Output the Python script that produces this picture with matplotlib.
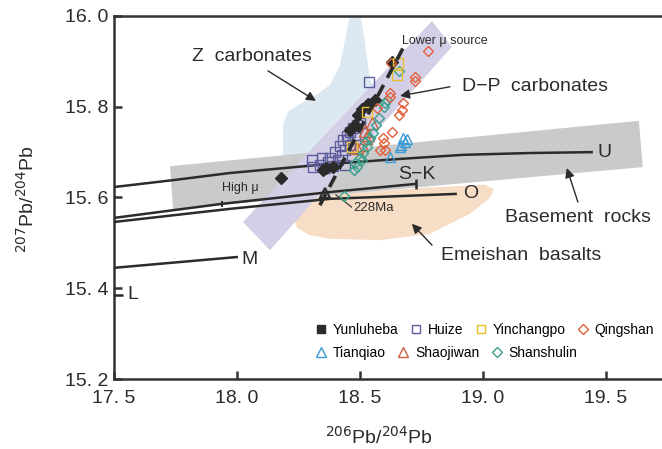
import matplotlib
matplotlib.use('Agg')
import matplotlib.pyplot as plt
from matplotlib.lines import Line2D
from matplotlib.patches import Polygon

plt.rcParams['font.family'] = ['Liberation Sans', 'DejaVu Sans']

INK = '#2b2b2b'

# --- sample data (206Pb/204Pb, 207Pb/204Pb) ---
yunluheba_x = [18.179, 18.630, 18.561, 18.533, 18.508, 18.492, 18.362, 18.390, 18.350, 18.480, 18.459]
yunluheba_y = [15.643, 15.899, 15.815, 15.806, 15.795, 15.782, 15.665, 15.667, 15.661, 15.760, 15.749]

huize_x = [18.537, 18.305, 18.346, 18.309, 18.358, 18.390, 18.439, 18.378, 18.398, 18.419, 18.431, 18.447,
           18.459, 18.472, 18.488, 18.500, 18.439, 18.459, 18.411, 18.427, 18.480, 18.451, 18.467, 18.337, 18.370]
huize_y = [15.855, 15.683, 15.687, 15.667, 15.665, 15.669, 15.672, 15.687, 15.700, 15.713, 15.727, 15.736,
           15.744, 15.753, 15.760, 15.764, 15.705, 15.716, 15.683, 15.694, 15.738, 15.727, 15.709, 15.672, 15.678]

yinchangpo_x = [18.654, 18.650, 18.528, 18.467]
yinchangpo_y = [15.896, 15.870, 15.788, 15.711]

qingshan_x = [18.776, 18.626, 18.724, 18.724, 18.622, 18.675, 18.671, 18.659, 18.569, 18.593, 18.598, 18.581,
              18.602, 18.630, 18.622]
qingshan_y = [15.923, 15.896, 15.866, 15.857, 15.830, 15.808, 15.793, 15.782, 15.797, 15.731, 15.720, 15.705,
              15.705, 15.744, 15.821]

tianqiao_x = [18.675, 18.691, 18.683, 18.663, 18.667, 18.622]
tianqiao_y = [15.731, 15.729, 15.722, 15.711, 15.716, 15.689]

shaojiwan_x = [18.549, 18.533, 18.524, 18.508, 18.488, 18.520]
shaojiwan_y = [15.764, 15.738, 15.731, 15.716, 15.709, 15.747]

shanshulin_x = [18.659, 18.610, 18.602, 18.598, 18.577, 18.553, 18.541, 18.528, 18.512, 18.500, 18.480, 18.476,
                18.488, 18.508, 18.435, 18.565, 18.520]
shanshulin_y = [15.879, 15.815, 15.808, 15.799, 15.775, 15.742, 15.731, 15.711, 15.698, 15.687, 15.676, 15.661,
                15.667, 15.683, 15.603, 15.760, 15.722]

# --- reference fields ---
dp_band_x = [18.024, 18.793, 18.874, 18.134]
dp_band_y = [15.546, 15.989, 15.932, 15.484]
basement_x = [17.728, 19.634, 19.650, 17.740]
basement_y = [15.669, 15.769, 15.667, 15.574]
z_carb_x = [18.187, 18.187, 18.207, 18.256, 18.317, 18.378, 18.419, 18.443, 18.463, 18.500, 18.516, 18.528,
            18.541, 18.602, 18.541, 18.256]
z_carb_y = [15.694, 15.760, 15.789, 15.806, 15.824, 15.848, 15.892, 15.958, 16.010, 16.010, 15.958, 15.910,
            15.859, 15.793, 15.683, 15.672]
emeishan_x = [18.256, 18.228, 18.244, 18.297, 18.378, 18.581, 18.785, 18.947, 19.028, 19.045, 19.008, 18.744, 18.378]
emeishan_y = [15.594, 15.561, 15.533, 15.517, 15.509, 15.506, 15.520, 15.564, 15.599, 15.619, 15.628, 15.621, 15.606]

# --- growth curves ---
u_x = [17.5, 17.736, 17.972, 18.378, 18.663, 18.919, 19.191, 19.447]
u_y = [15.623, 15.638, 15.654, 15.674, 15.685, 15.694, 15.698, 15.700]
sk_x = [17.5, 17.939, 18.378, 18.728]
sk_y = [15.555, 15.586, 15.612, 15.630]
o_x = [17.5, 17.972, 18.378, 18.894]
o_y = [15.546, 15.575, 15.597, 15.608]
m_x = [17.5, 18.004]
m_y = [15.445, 15.469]
l_x = [17.5, 17.537]
l_y = [15.385, 15.385]
trend_x = [18.337, 18.675]
trend_y = [15.583, 15.929]
age_228_x, age_228_y = 18.358, 15.610
high_mu_x, high_mu_y = 17.939, 15.586

x_ticks = [17.5, 18.0, 18.5, 19.0, 19.5]
x_labels = ['17. 5', '18. 0', '18. 5', '19. 0', '19. 5']
y_ticks = [15.2, 15.4, 15.6, 15.8, 16.0]
y_labels = ['15. 2', '15. 4', '15. 6', '15. 8', '16. 0']

fig = plt.figure(figsize=(6.62, 4.49), dpi=100)
ax = fig.add_axes([0.1722, 0.1559, 0.8278, 0.8085])
ax.set_xlim(17.5, 19.728)
ax.set_ylim(15.2, 16.0)

ax.add_patch(Polygon(list(zip(emeishan_x, emeishan_y)), closed=True, fc='#f7dcc6', ec='none', zorder=1))
ax.add_patch(Polygon(list(zip(z_carb_x, z_carb_y)), closed=True, fc='#dce9f3', ec='none', zorder=1))
ax.add_patch(Polygon(list(zip(basement_x, basement_y)), closed=True, fc='#c9cacb', ec='none', zorder=2))
ax.add_patch(Polygon(list(zip(dp_band_x, dp_band_y)), closed=True, fc='#d4cfe6', ec='none', zorder=3))

line_kw = dict(color=INK, lw=1.8, solid_capstyle='butt', zorder=4)
ax.plot(u_x, u_y, **line_kw)
ax.plot(sk_x, sk_y, **line_kw)
ax.plot(o_x, o_y, **line_kw)
ax.plot(m_x, m_y, **line_kw)
ax.plot(l_x, l_y, **line_kw)
ax.plot([sk_x[-1]], [sk_y[-1]], marker='|', ms=7, mew=1.8, color=INK, zorder=4)
ax.plot([high_mu_x], [high_mu_y], marker='|', ms=5, mew=1.5, color=INK, zorder=4)
ax.plot([age_228_x], [age_228_y], marker='^', ms=7, mfc='none', mec=INK, mew=1.6, zorder=6)
ax.plot([age_228_x + 0.044, age_228_x + 0.108], [age_228_y - 0.004, age_228_y - 0.031], color=INK, lw=0.8, zorder=4)

mk = dict(ls='none', mfc='none', mew=1.0, zorder=5)
ax.plot(huize_x, huize_y, marker='s', ms=6.5, mec='#5d5d9c', **mk)
ax.plot(yunluheba_x, yunluheba_y, marker='D', ls='none', ms=6, color=INK, zorder=5)
ax.plot(shaojiwan_x, shaojiwan_y, marker='^', ms=8, mec='#c9603f', **mk)
ax.plot(shanshulin_x, shanshulin_y, marker='D', ms=5, mec='#3aa08c', **mk)
ax.plot(qingshan_x, qingshan_y, marker='D', ms=5, mec='#e2603a', **mk)
ax.plot(tianqiao_x, tianqiao_y, marker='^', ms=7.5, mec='#3b9ad8', **mk)
ax.plot(yinchangpo_x, yinchangpo_y, marker='s', ms=6.5, mec='#e9c030', **mk)
ax.plot(trend_x, trend_y, color=INK, lw=2.6, dashes=(3.5, 2.2), zorder=6)

# labels on the diagram
big = dict(fontsize=14, color=INK, va='center', ha='left', zorder=7)
ax.text(17.817, 15.910, 'Z  carbonates', **big)
ax.text(18.915, 15.844, 'D\u2212P  carbonates', **big)
ax.text(19.089, 15.557, 'Basement  rocks', **big)
ax.text(18.829, 15.473, 'Emeishan  basalts', **big)
ax.text(18.654, 15.650, 'S\u2212K', **big)
ax.text(18.919, 15.608, 'O', **big)
ax.text(19.467, 15.700, 'U', **big)
ax.text(18.016, 15.464, 'M', **big)
ax.text(17.553, 15.387, 'L', **big)
ax.text(17.939, 15.621, 'High \u03bc', fontsize=9, color=INK, va='center', ha='left')
ax.text(18.671, 15.945, 'Lower \u03bc source', fontsize=9, color=INK, va='center', ha='left', zorder=7)
ax.text(18.472, 15.577, '228Ma', fontsize=9.5, color=INK, va='center', ha='left')

arr = dict(arrowstyle='-|>', color=INK, lw=1.0, mutation_scale=14, shrinkA=0, shrinkB=0)
ax.annotate('', xy=(18.321, 15.813), xytext=(18.126, 15.879), arrowprops=arr, zorder=7)
ax.annotate('', xy=(18.663, 15.824), xytext=(18.866, 15.844), arrowprops=arr, zorder=7)
ax.annotate('', xy=(19.341, 15.665), xytext=(19.386, 15.590), arrowprops=arr, zorder=7)
ax.annotate('', xy=(18.711, 15.542), xytext=(18.793, 15.495), arrowprops=arr, zorder=7)

# axes styling
for side in ['left', 'bottom', 'top']:
    ax.spines[side].set_linewidth(1.8)
    ax.spines[side].set_color('#333333')
ax.spines['right'].set_visible(False)
ax.set_xticks(x_ticks)
ax.set_xticklabels(x_labels)
ax.set_yticks(y_ticks)
ax.set_yticklabels(y_labels)
ax.tick_params(direction='in', length=6, width=1.8, color='#333333', labelsize=14, labelcolor=INK)
ax.tick_params(axis='x', pad=8)
ax.tick_params(axis='y', pad=4)

fig.text(0.5725, 0.027, r'$^{206}$Pb/$^{204}$Pb', fontsize=14, color=INK, ha='center', va='center')
fig.text(0.040, 0.557, r'$^{207}$Pb/$^{204}$Pb', fontsize=14, color=INK, ha='center', va='center', rotation=90)

# legend, two rows
def h(marker, ec, fc='none', ms=6):
    return Line2D([], [], ls='none', marker=marker, mec=ec, mfc=fc, ms=ms, mew=1.0)

row1 = [h('s', INK, INK, 6), h('s', '#5d5d9c'), h('s', '#e9c030'), h('D', '#e2603a', ms=5)]
row1_names = ['Yunluheba', 'Huize', 'Yinchangpo', 'Qingshan']
row2 = [h('^', '#3b9ad8', ms=7), h('^', '#c9603f', ms=7), h('D', '#3aa08c', ms=5)]
row2_names = ['Tianqiao', 'Shaojiwan', 'Shanshulin']

leg_kw = dict(loc='center left', frameon=False, fontsize=10, handlelength=1.0, handletextpad=0.35,
              columnspacing=0.75, borderpad=0, borderaxespad=0)
leg1 = ax.legend(row1, row1_names, ncol=4, bbox_to_anchor=(0.365, 0.135), **leg_kw)
ax.add_artist(leg1)
ax.legend(row2, row2_names, ncol=3, bbox_to_anchor=(0.365, 0.072), **leg_kw)

fig.savefig('out.png', dpi=100)
